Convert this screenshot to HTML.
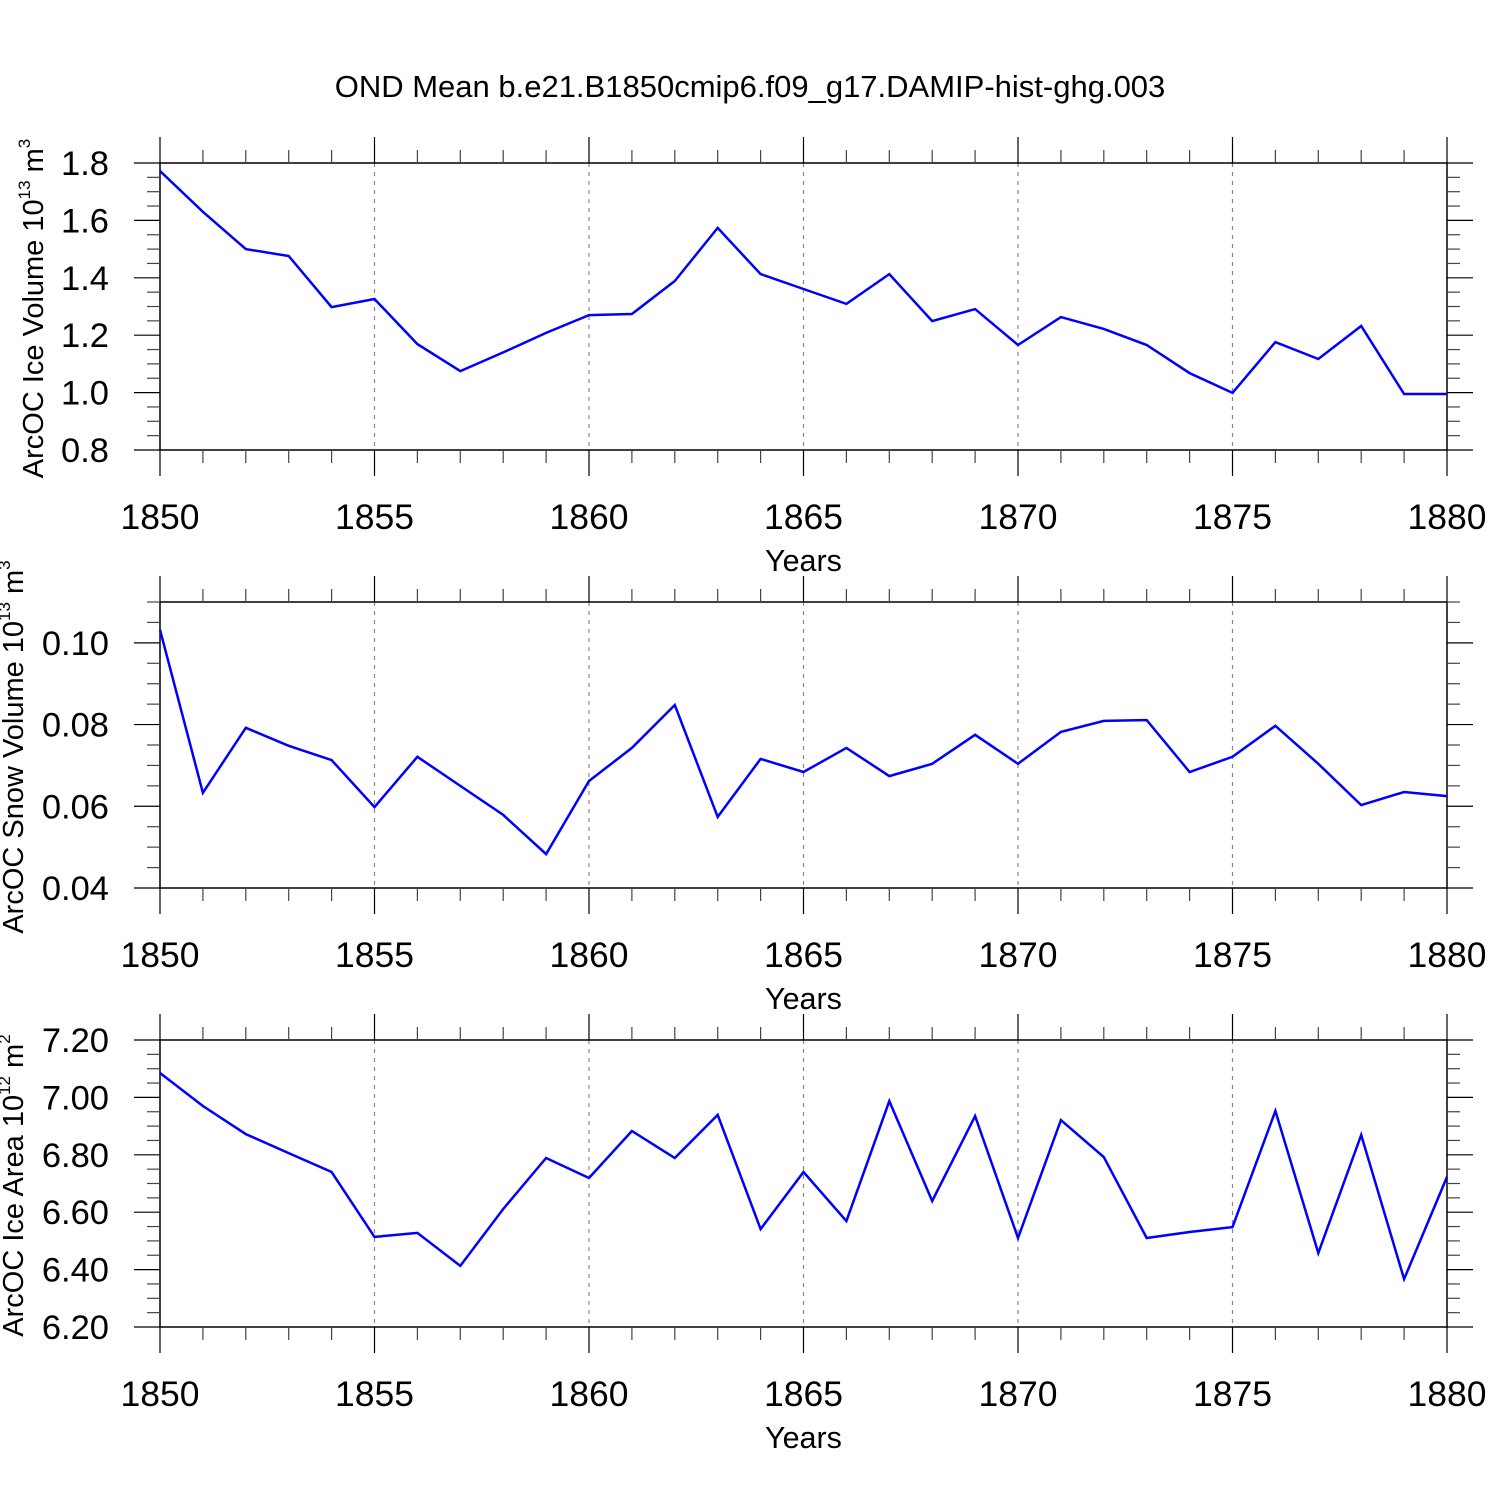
<!DOCTYPE html>
<html><head><meta charset="utf-8"><style>
html,body{margin:0;padding:0;background:#fff;}
svg{display:block;font-family:"Liberation Sans",sans-serif;}
</style></head><body>
<svg id="chart" width="1500" height="1500" viewBox="0 0 1500 1500">
<text x="750" y="97" text-anchor="middle" font-size="31">OND Mean b.e21.B1850cmip6.f09_g17.DAMIP-hist-ghg.003</text>
</svg>
<script>
const years = [];
for (let y = 1850; y <= 1880; y++) years.push(y);
const iceVolume = [1.772,1.63,1.50,1.476,1.298,1.326,1.169,1.075,1.14,1.208,1.27,1.274,1.389,1.574,1.413,1.361,1.309,1.413,1.249,1.291,1.166,1.263,1.222,1.166,1.068,0.999,1.176,1.117,1.232,0.995,0.995];
const snowVolume = [0.1032,0.0633,0.0792,0.0748,0.0713,0.0598,0.0721,0.065,0.0579,0.0483,0.0662,0.0743,0.0848,0.0574,0.0716,0.0684,0.0743,0.0674,0.0704,0.0775,0.0704,0.0782,0.0809,0.0811,0.0684,0.0721,0.0797,0.0704,0.0603,0.0635,0.0625];
const iceArea = [7.085,6.97,6.872,6.806,6.74,6.514,6.528,6.413,6.611,6.789,6.719,6.883,6.789,6.939,6.541,6.74,6.569,6.987,6.639,6.935,6.51,6.921,6.792,6.51,6.531,6.548,6.953,6.458,6.869,6.367,6.723];
const xTicks = [1850,1855,1860,1865,1870,1875,1880];
const iceVolTicks = ["0.8","1.0","1.2","1.4","1.6","1.8"];
const snowTicks = ["0.04","0.06","0.08","0.10"];
const areaTicks = ["6.20","6.40","6.60","6.80","7.00","7.20"];

const svg = document.getElementById('chart');
const NS = 'http://www.w3.org/2000/svg';
function mk(tag, attrs, parent) {
  const e = document.createElementNS(NS, tag);
  for (const k in attrs) e.setAttribute(k, attrs[k]);
  (parent || svg).appendChild(e);
  return e;
}
const X0 = 160, X1 = 1447;
function xs(v) { return X0 + (v - 1850) / 30 * (X1 - X0); }

function panel(cfg) {
  const g = mk('g', {});
  
  
  const top = cfg.top, bot = cfg.bot;
  const ys = v => bot - (v - cfg.ymin) / (cfg.ymax - cfg.ymin) * (bot - top);
  xTicks.slice(1, -1).forEach(t => {
    const l = mk('line', {x1: xs(t), x2: xs(t), y1: top, y2: bot, stroke: '#888', 'stroke-width': 1.2, 'stroke-dasharray': '4,5'}, g);
    
    
  });
  const fr = mk('rect', {x: X0, y: top, width: X1 - X0, height: bot - top, fill: 'none', stroke: '#000', 'stroke-width': 1.5}, g);
  
  
  for (let y = 1850; y <= 1880; y++) {
    const major = (y % 5 === 0);
    const len = major ? 26 : 13;
    const c = major ? '#000' : '#444';
    mk('line', {x1: xs(y), x2: xs(y), y1: top, y2: top - len, stroke: c, 'stroke-width': 1.2}, g);
    mk('line', {x1: xs(y), x2: xs(y), y1: bot, y2: bot + len, stroke: c, 'stroke-width': 1.2}, g);
  }
  xTicks.forEach(t => {
    const tx = mk('text', {x: xs(t), y: bot + 79, 'text-anchor': 'middle', 'font-size': 35.5}, g);
    tx.textContent = t;
    
    
  });
  const xt = mk('text', {x: (X0 + X1) / 2, y: bot + 121, 'text-anchor': 'middle', 'font-size': 30.5}, g);
  xt.textContent = 'Years';
  
  
  const nMinor = Math.round((cfg.ymax - cfg.ymin) / cfg.minor);
  for (let i = 0; i <= nMinor; i++) {
    const v = cfg.ymin + i * cfg.minor;
    const r = (v - cfg.ymin) / cfg.major;
    const major = Math.abs(r - Math.round(r)) < 1e-6;
    const len = major ? 26 : 13;
    const c = major ? '#000' : '#444';
    mk('line', {x1: X0, x2: X0 - len, y1: ys(v), y2: ys(v), stroke: c, 'stroke-width': 1.2}, g);
    mk('line', {x1: X1, x2: X1 + len, y1: ys(v), y2: ys(v), stroke: c, 'stroke-width': 1.2}, g);
  }
  cfg.ticks.forEach(t => {
    const tx = mk('text', {x: 109, y: ys(parseFloat(t)) + 12, 'text-anchor': 'end', 'font-size': 34.5}, g);
    tx.textContent = t;
    
    
  });
  const cy = (top + bot) / 2;
  const yt = mk('text', {x: 0, y: 0, 'text-anchor': 'middle', 'font-size': 29, transform: 'translate(' + cfg.titleX + ',' + (cy + 2) + ') rotate(-90)'}, g);
  yt.innerHTML = cfg.title + ' 10<tspan font-size="17" dy="-13">' + cfg.exp + '</tspan><tspan dy="13"> m</tspan><tspan font-size="17" dy="-13">' + cfg.unitExp + '</tspan>';
  
  
  const pts = cfg.data.map((v, i) => xs(years[i]).toFixed(1) + ',' + ys(v).toFixed(1)).join(' ');
  const pl = mk('polyline', {points: pts, fill: 'none', stroke: '#0000ff', 'stroke-width': 2.5, 'stroke-linejoin': 'miter'}, g);
  
  
}

panel({name: 'ice-volume-panel', top: 163, bot: 450, ymin: 0.8, ymax: 1.8, major: 0.2, minor: 0.05, ticks: iceVolTicks, data: iceVolume, title: 'ArcOC Ice Volume', exp: '13', unitExp: '3', titleX: 43});
panel({name: 'snow-volume-panel', top: 602, bot: 888, ymin: 0.04, ymax: 0.11, major: 0.02, minor: 0.005, ticks: snowTicks, data: snowVolume, title: 'ArcOC Snow Volume', exp: '13', unitExp: '3', titleX: 23});
panel({name: 'ice-area-panel', top: 1040, bot: 1327, ymin: 6.2, ymax: 7.2, major: 0.2, minor: 0.05, ticks: areaTicks, data: iceArea, title: 'ArcOC Ice Area', exp: '12', unitExp: '2', titleX: 23});
</script>
</body></html>
